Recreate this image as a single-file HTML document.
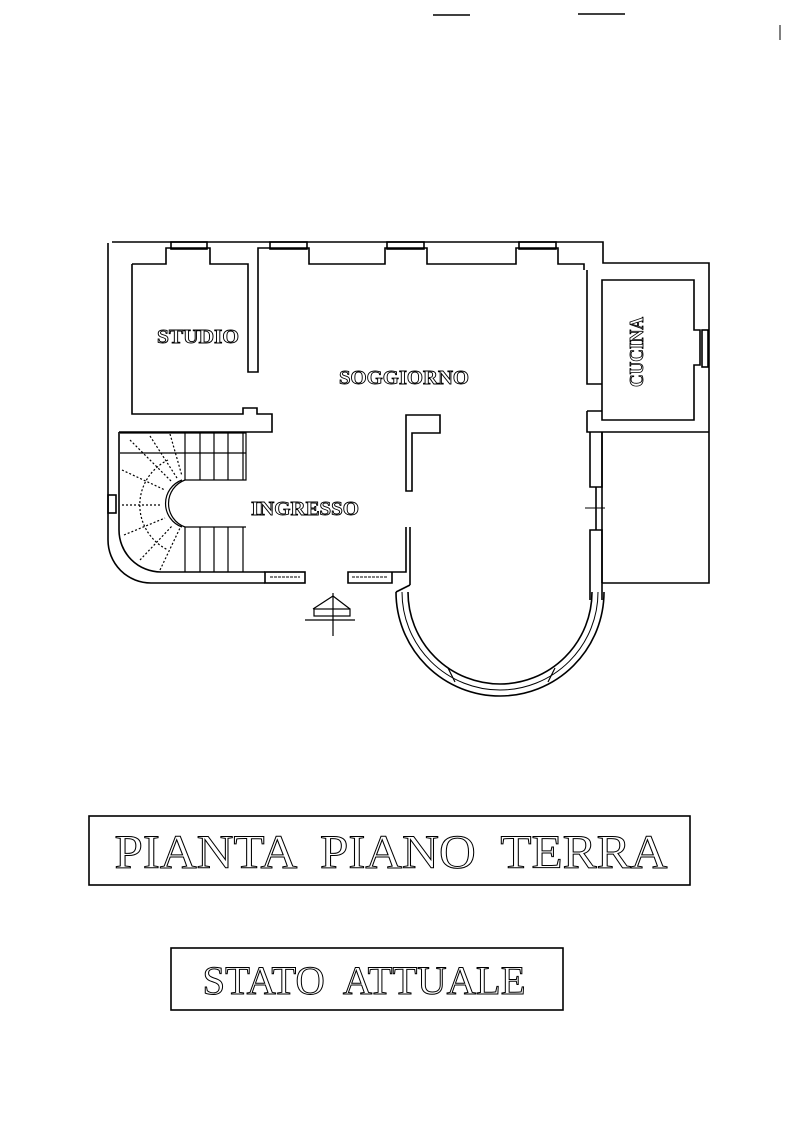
<!DOCTYPE html>
<html><head><meta charset="utf-8"><style>
html,body{margin:0;padding:0;background:#fff}
svg{display:block}
text{font-family:"Liberation Serif",serif}
</style></head><body>
<svg width="800" height="1130" viewBox="0 0 800 1130" xmlns="http://www.w3.org/2000/svg">
<g stroke="#000" fill="none" stroke-width="1.6">
<line x1="433" y1="15" x2="470" y2="15"/><line x1="578" y1="14" x2="625" y2="14"/><line x1="780" y1="25" x2="780" y2="40" stroke-width="1"/>
<path d="M112 242 H603 V263 H709 V583 H602"/>
<path d="M108 243 V540 A43 43 0 0 0 151 583 H265"/>
<path d="M119 432 V530 A42 42 0 0 0 161 572 H265"/>
<rect x="108" y="495" width="8" height="18"/>
<rect x="265" y="572" width="40" height="11"/>
<line x1="270" y1="577" x2="300" y2="577" stroke-dasharray="3 1" stroke-width="1"/>
<path d="M132 264 H166 V248 H210 V264 H248 V372 H258 V264 V248 H309 V264 H385 V248 H427 V264 H516 V248 H558 V264 H584 V270"/>
<path d="M132 264 V414 H243 V408 H257 V414 H272 V432 H119"/>
<rect x="171" y="242" width="36" height="7"/><rect x="270" y="242" width="37" height="7"/>
<rect x="387" y="242" width="37" height="7"/><rect x="519" y="242" width="37" height="7"/>
<path d="M602 280 H694 V330 H700 V365 H694 V420 H602 Z"/>
<rect x="702" y="330" width="6" height="37"/>
<path d="M587 270 V384 H602"/>
<path d="M587 411 H602 M587 411 V432 H709"/>
<line x1="602" y1="432" x2="602" y2="583"/>
<path d="M590 432 V487 H602 V432"/>
<line x1="596" y1="487" x2="596" y2="530"/><line x1="585" y1="508" x2="605" y2="508" stroke-width="1"/>
<path d="M590 600 V530 H602 V600"/>
<path d="M406 491 V415 H440 V433 H412 V491 Z"/>
<path d="M406 527 V572 H392 V583 H348 V572 H392"/>
<path d="M410 527 V585"/>
<line x1="352" y1="577" x2="388" y2="577" stroke-dasharray="3 1" stroke-width="1"/>
<path d="M396 592 A104 104 0 0 0 604 592"/>
<path d="M402 592 A98 98 0 0 0 598 592" stroke-width="1"/>
<path d="M408 592 A92 92 0 0 0 592 592"/>
<line x1="396" y1="592" x2="410" y2="585"/>
<g stroke-width="1.2">
<line x1="448" y1="668" x2="455" y2="682"/><line x1="548" y1="682" x2="555" y2="668"/>
</g>
<g stroke-width="1.2">
<path d="M120 433 H246 V480 H185 M120 453 H246 M185 433 V480 M200 433 V480 M214 433 V480 M228 433 V480 M243 433 V480"/>
<path d="M185 527 H246 M185 527 V572 M200 527 V572 M214 527 V572 M228 527 V572 M243 527 V572"/>
<path d="M185 480 A25 25 0 0 0 185 527"/>
<path d="M185 480 A25 25 0 0 0 185 527" transform="translate(-3 0)"/>
<path d="M168 460 A50 50 0 0 0 168 550" stroke-dasharray="2 2"/>
<g stroke-dasharray="2 2">
<line x1="130" y1="440" x2="172" y2="482"/><line x1="150" y1="436" x2="177" y2="478"/><line x1="170" y1="434" x2="182" y2="476"/>
<line x1="122" y1="470" x2="165" y2="490"/><line x1="122" y1="505" x2="160" y2="505"/><line x1="124" y1="535" x2="165" y2="518"/>
<line x1="140" y1="560" x2="172" y2="526"/><line x1="160" y1="570" x2="180" y2="528"/>
</g></g>
<g stroke-width="1.2"><line x1="333" y1="593" x2="333" y2="636"/><line x1="305" y1="620" x2="355" y2="620"/>
<path d="M313 609 L333 596 L350 609"/><rect x="314" y="609" width="36" height="7"/></g>
<rect x="89" y="816" width="601" height="69"/>
<rect x="171" y="948" width="392" height="62"/>
</g>
<g fill="#fff" stroke="#000" stroke-width="0.9" font-weight="bold">
<text x="198" y="343" font-size="20" text-anchor="middle" textLength="82" lengthAdjust="spacingAndGlyphs">STUDIO</text>
<text x="404" y="384" font-size="20" text-anchor="middle" textLength="130" lengthAdjust="spacingAndGlyphs">SOGGIORNO</text>
<text x="305" y="515" font-size="20" text-anchor="middle" textLength="108" lengthAdjust="spacingAndGlyphs">INGRESSO</text>
<text transform="translate(643 352) rotate(-90)" font-size="20" text-anchor="middle" textLength="70" lengthAdjust="spacingAndGlyphs">CUCINA</text>
</g>
<g fill="#fff" stroke="#000" stroke-width="1">
<text x="391" y="868" font-size="48" text-anchor="middle" textLength="553" lengthAdjust="spacingAndGlyphs" word-spacing="12">PIANTA PIANO TERRA</text>
<text x="364" y="994" font-size="40" text-anchor="middle" textLength="323" lengthAdjust="spacingAndGlyphs" word-spacing="10">STATO ATTUALE</text>
</g>
</svg>
</body></html>
